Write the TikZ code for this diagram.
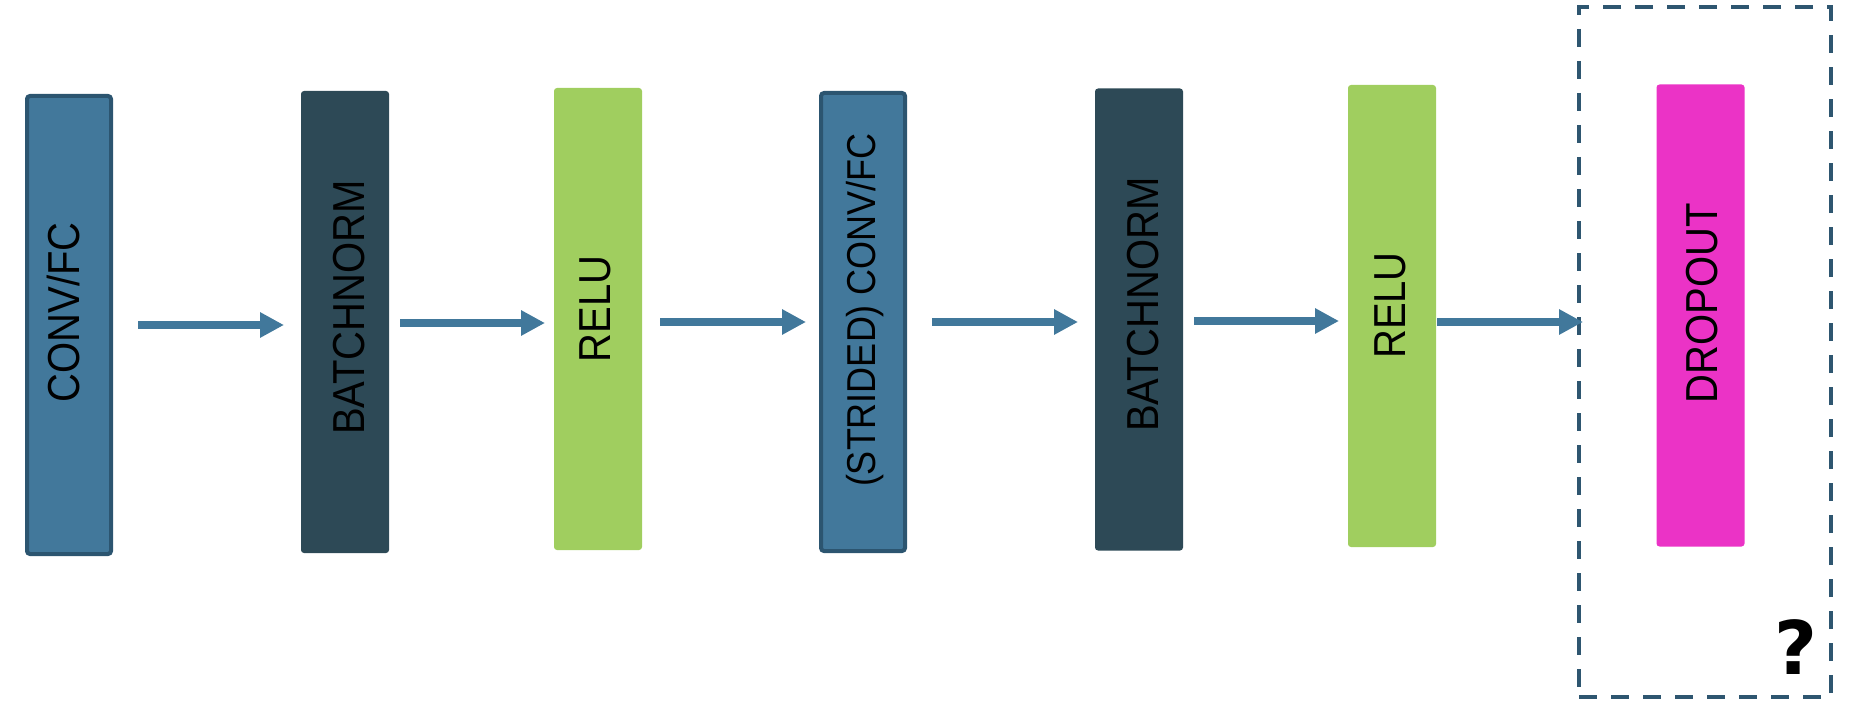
\documentclass[tikz,border=0pt]{standalone}
\usepackage{fontspec}
\setmainfont{Liberation Sans}
\newfontfamily\qfont{DejaVu Sans}
\usetikzlibrary{arrows.meta}
\definecolor{convfill}{RGB}{66,120,155}
\definecolor{convdraw}{RGB}{44,85,112}
\definecolor{bnfill}{RGB}{45,73,86}
\definecolor{relufill}{RGB}{160,206,95}
\definecolor{dropfill}{RGB}{235,51,198}
\definecolor{arrowcol}{RGB}{65,120,155}
\definecolor{dashcol}{RGB}{46,86,112}
\tikzset{
  convbox/.style={rectangle, fill=convfill, draw=convdraw, line width=2pt, rounded corners=1.5pt, minimum width=42pt, minimum height=229pt, inner sep=0pt},
  plainbox/.style={rectangle, rounded corners=1.5pt, minimum width=44pt, minimum height=231pt, inner sep=0pt, outer sep=0pt},
  bnbox/.style={plainbox, fill=bnfill},
  relubox/.style={plainbox, fill=relufill},
  dropbox/.style={plainbox, fill=dropfill},
  lbl/.style={rotate=90, inner sep=0pt, outer sep=0pt, text height=16pt, text depth=0pt, font=\fontsize{20}{24}\selectfont, text=black},
  arr/.style={draw=arrowcol, line width=3.75pt, -{Triangle[length=12pt,width=12pt]}},
  grpbox/.style={rectangle, draw=dashcol, line width=2pt, dash pattern=on 9pt off 7pt, minimum width=126pt, minimum height=345pt, inner sep=0pt, outer sep=0pt}
}
\newcommand{\vs}[1]{\scalebox{1}[1.12]{#1}}
\begin{document}
\begin{tikzpicture}[x=0.5pt,y=-0.5pt]
\useasboundingbox (0,0) rectangle (1858,722);
% boxes
\node[convbox] (b1) at (69,325) {};
\node[bnbox] (b2) at (345,322) {};
\node[relubox] (b3) at (598,319) {};
\node[convbox] (b4) at (863,322) {};
\node[bnbox] (b5) at (1139,319.5) {};
\node[relubox] (b6) at (1392,316) {};
\node[grpbox] (grp) at (1705,352) {};
\node[dropbox] (b7) at (1700.5,315.5) {};
% labels
\node[lbl] (t1) at ([shift={(-5.5,-12.5)}]b1.center) {\vs{CONV/FC}};
\node[lbl] (t2) at ([shift={(3,-14.5)}]b2.center) {\vs{BATCHNORM}};
\node[lbl] (t3) at ([shift={(-3.5,-10)}]b3.center) {\vs{RELU}};
\node[lbl, font=\fontsize{18}{22}\selectfont] (t4) at ([shift={(-3.5,-12)}]b4.center) {\vs{(STRIDED) CONV/FC}};
\node[lbl] (t5) at ([shift={(3.5,-15)}]b5.center) {\vs{BATCHNORM}};
\node[lbl] (t6) at ([shift={(-2.5,-10.5)}]b6.center) {\vs{RELU}};
\node[lbl] (t7) at ([shift={(0.5,-12.5)}]b7.center) {\vs{DROPOUT}};
\node[inner sep=0pt, font=\qfont\bfseries\fontsize{37}{40}\selectfont] (q) at (1795.5,647.5) {?};
% arrows
\coordinate (s1) at ([shift={(25,0)}]b1.east);
\coordinate (s2) at ([shift={(11,1)}]b2.east);
\coordinate (s3) at ([shift={(18,3)}]b3.east);
\coordinate (s4) at ([shift={(25,0)}]b4.east);
\coordinate (s5) at ([shift={(11,1.5)}]b5.east);
\coordinate (s6) at ([shift={(1,6)}]b6.east);
\draw[arr] (s1) -- ([shift={(-17,0)}]s1 -| b2.west);
\draw[arr] (s2) -- ([shift={(-9,0)}]s2 -| b3.west);
\draw[arr] (s3) -- ([shift={(-13,0)}]s3 -| b4.west);
\draw[arr] (s4) -- ([shift={(-17,0)}]s4 -| b5.west);
\draw[arr] (s5) -- ([shift={(-9,0)}]s5 -| b6.west);
\draw[arr] (s6) -- ([shift={(4,0)}]s6 -| grp.west);
\end{tikzpicture}
\end{document}
